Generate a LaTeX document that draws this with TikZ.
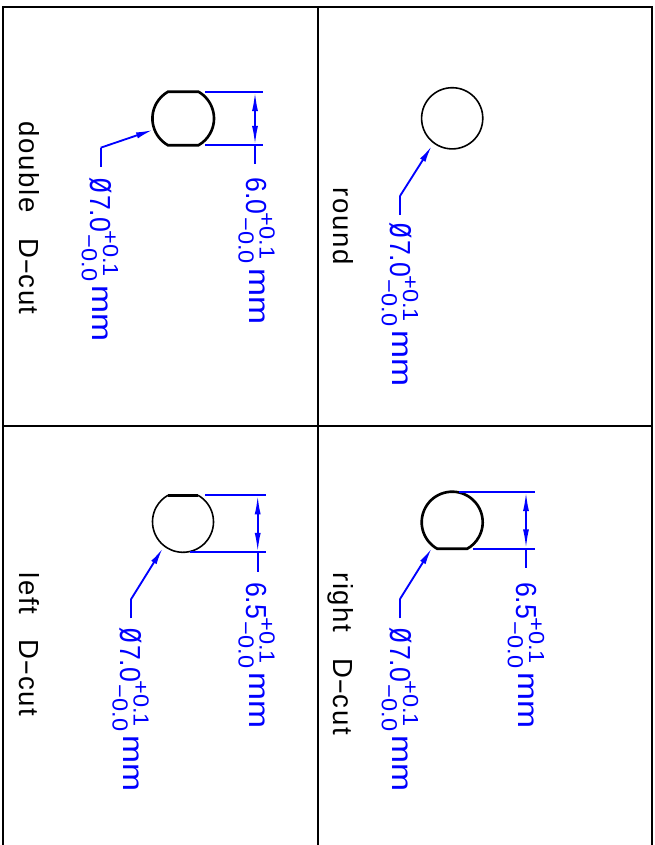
\documentclass[tikz,border=0pt]{standalone}
\usepackage{fontspec}
\usepackage{graphicx}
\setmainfont{Liberation Sans}
\newfontfamily\dimfont[FakeStretch=0.92]{Liberation Sans}
\newfontfamily\tolfont[FakeStretch=1.08]{Liberation Sans}
\newfontfamily\unitfont[FakeStretch=1.16]{Liberation Sans}
\newfontfamily\capfont[LetterSpace=6]{Liberation Sans}
\usetikzlibrary{arrows.meta}
\newcommand{\dimcolor}{blue}
\newcommand{\thinline}{0.9pt}
\newcommand{\blueline}{1.05pt}
\newcommand{\thickline}{1.5pt}
\newcommand{\tolsize}{\tolfont\fontsize{12.4}{12.4}\selectfont}
\newcommand{\tolstack}{\kern-1pt\raisebox{7.4pt}{\rlap{\tolsize +0.1}}\kern2.5pt\raisebox{-4.6pt}{\tolsize −0.0}}
\newcommand{\unittext}{\kern2.6pt\raisebox{1.7pt}{\unitfont\fontsize{16.5}{16.5}\selectfont mm}}
\newcommand{\diatext}{\scalebox{1}[1.35]{ø}\kern1pt 7.0\tolstack\unittext}
\newcommand{\widthtext}[1]{#1\tolstack\unittext}
\newcommand{\cuttext}[1]{#1\kern4pt~~D\scalebox{1.8}[1]{-}cut}
\tikzset{
  frameline/.style={line width=\thinline},
  profile/.style={line width=\thinline},
  profilebold/.style={line width=\thickline},
  dimline/.style={\dimcolor,line width=\blueline},
  leaderarrow/.style={dimline,-{Latex[length=9.5pt,width=3.6pt]}},
  dimarrow/.style={dimline,{Latex[length=11pt,width=3.4pt]}-{Latex[length=11pt,width=3.4pt]}},
  dimlabel/.style={\dimcolor,rotate=-90,anchor=base west,inner sep=0pt,font=\dimfont\fontsize{16.5}{16.5}\selectfont},
  caplabel/.style={rotate=-90,anchor=base west,inner sep=0pt,font=\capfont\fontsize{15.7}{15.7}\selectfont}
}

\begin{document}
\begin{tikzpicture}[x=0.02cm,y=-0.02cm]
\useasboundingbox (0,0) rectangle (654,845);
%frame
\draw[frameline] (3,845) -- (3,7) -- (652,7) -- (652,845);
\draw[frameline] (318,7) -- (318,845);
\draw[frameline] (3,426) -- (652,426);
%round
\coordinate (rc) at (452.2,118.3);
\draw[profile] (rc) circle (30.6);
\node[caplabel] (rcap) at (333,187) {round};
\node[dimlabel] (rdia) at (390,221.7) {\diatext};
\coordinate (rl1) at (400,215);
\coordinate (rl2) at (400,196);
\coordinate (rl3) at (431.7,146);
\draw[dimline] (rl1) -- (rl2);
\draw[leaderarrow] (rl2) -- (rl3);
%double
\coordinate (dc) at (183.2,118.5);
\draw[profilebold] (dc) ++(-60.5:30.8) arc[start angle=-60.5,end angle=60.5,radius=30.8] -- ++(-30.3,0) arc[start angle=119.5,end angle=240.5,radius=30.8] -- cycle;
\node[caplabel] (dcap) at (19,121) {\cuttext{double}};
\node[dimlabel] (ddia) at (90,176.7) {\diatext};
\node[dimlabel] (dwid) at (246.7,177.3) {\widthtext{6.0}};
\coordinate (dl1) at (100.7,166.7);
\coordinate (dl2) at (100.7,147.7);
\coordinate (dl3) at (152.7,130);
\draw[dimline] (dl1) -- (dl2);
\draw[leaderarrow] (dl2) -- (dl3);
\coordinate (de1) at (205,91.7);
\coordinate (de2) at (262.7,91.7);
\coordinate (de3) at (205,145.3);
\coordinate (de4) at (262.7,145.3);
\coordinate (da1) at (255,91.7);
\coordinate (da2) at (255,145.3);
\coordinate (da3) at (255,164);
\draw[dimline] (de1) -- (de2);
\draw[dimline] (de3) -- (de4);
\draw[dimarrow] (da1) -- (da2);
\draw[dimline] (da2) -- (da3);
%right
\coordinate (hc) at (452.2,522.2);
\draw[profilebold] (hc) ++(119.7:30.5) arc[start angle=119.7,end angle=420.3,radius=30.5] -- cycle;
\node[caplabel] (hcap) at (333,572) {\cuttext{right}};
\node[dimlabel] (hdia) at (390,626.7) {\diatext};
\node[dimlabel] (hwid) at (516,581.7) {\widthtext{6.5}};
\coordinate (hl1) at (400,618.3);
\coordinate (hl2) at (400,599);
\coordinate (hl3) at (431.7,548.3);
\draw[dimline] (hl1) -- (hl2);
\draw[leaderarrow] (hl2) -- (hl3);
\coordinate (he1) at (459.3,491.7);
\coordinate (he2) at (535,491.7);
\coordinate (he3) at (473.3,548.7);
\coordinate (he4) at (535,548.7);
\coordinate (ha1) at (526,491.7);
\coordinate (ha2) at (526,548.7);
\coordinate (ha3) at (526,567.7);
\draw[dimline] (he1) -- (he2);
\draw[dimline] (he3) -- (he4);
\draw[dimarrow] (ha1) -- (ha2);
\draw[dimline] (ha2) -- (ha3);
%left
\coordinate (lc) at (183,521.8);
\draw[profile] (lc) ++(-60.5:30.5) arc[start angle=-60.5,end angle=240.5,radius=30.5];
\draw[profilebold] (lc) ++(-119.5:30.5) -- ++(30,0);
\node[caplabel] (lcap) at (19,572) {\cuttext{left}};
\node[dimlabel] (ldia) at (120.7,626.7) {\diatext};
\node[dimlabel] (lwid) at (246.7,581.7) {\widthtext{6.5}};
\coordinate (ll1) at (131,618.3);
\coordinate (ll2) at (131,599.3);
\coordinate (ll3) at (162.7,548.3);
\draw[dimline] (ll1) -- (ll2);
\draw[leaderarrow] (ll2) -- (ll3);
\coordinate (le1) at (205,495);
\coordinate (le2) at (265.7,495);
\coordinate (le3) at (190,552.3);
\coordinate (le4) at (265.7,552.3);
\coordinate (la1) at (257.7,495);
\coordinate (la2) at (257.7,552.3);
\coordinate (la3) at (257.7,571.7);
\draw[dimline] (le1) -- (le2);
\draw[dimline] (le3) -- (le4);
\draw[dimarrow] (la1) -- (la2);
\draw[dimline] (la2) -- (la3);
\end{tikzpicture}
\end{document}
